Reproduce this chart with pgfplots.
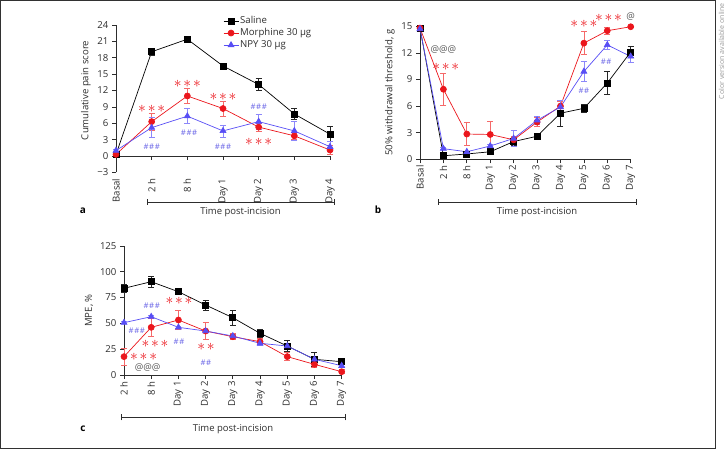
\documentclass[border=0pt]{standalone}
\usepackage{pgfplots}
\pgfplotsset{compat=1.18}
\usepackage{fontspec}
\setmainfont{Open Sans}
\definecolor{cred}{RGB}{235,22,28}
\definecolor{credl}{RGB}{245,105,105}
\definecolor{cblue}{RGB}{88,78,245}
\definecolor{cbluel}{RGB}{140,135,250}
\definecolor{chash}{RGB}{105,100,230}
\definecolor{cax}{RGB}{45,45,45}
\definecolor{cborder}{RGB}{50,50,50}
\newcommand{\as}{\scalebox{1.55}{$\ast$}}
\newcommand{\ttt}{\as\kern1.8pt\as\kern1.8pt\as}
\newcommand{\tto}{\as\kern1.8pt\as}
\newcommand{\hhh}{\fontsize{7.8}{8}\selectfont\#\kern0.6pt\#\kern0.6pt\#}
\newcommand{\hho}{\fontsize{7.8}{8}\selectfont\#\kern0.6pt\#}
\newcommand{\aaa}{\fontsize{9.5}{10}\selectfont @@@}
\tikzset{ann/.style={inner sep=0pt, outer sep=0pt}}
\pgfplotsset{
  panel/.style={
    anchor=south west, scale only axis, clip=false,
    axis lines=left,
    axis line style={cax, line width=0.7pt, -},
    tick align=outside, major tick length=4pt,
    tick style={cax, line width=0.7pt},
    /pgf/number format/assume math mode=true,
    tick label style={font=\fontsize{9.6}{10}\selectfont, text=cax},
    xticklabel style={rotate=90, anchor=east, inner sep=2pt},
    label style={font=\fontsize{9.6}{10}\selectfont, text=cax},
    error bars/y dir=both, error bars/y explicit,
  },
  sal/.style={black, line width=0.7pt, mark=square*, mark size=3pt,
    mark options={solid, fill=black, draw=black},
    error bars/error bar style={black!85, line width=0.7pt},
    error bars/error mark options={rotate=90, mark size=3pt, black!85, line width=0.7pt}},
  mor/.style={cred, line width=0.7pt, mark=*, mark size=3pt,
    mark options={solid, fill=cred, draw=cred},
    error bars/error bar style={credl, line width=0.7pt},
    error bars/error mark options={rotate=90, mark size=3pt, credl, line width=0.7pt}},
  npy/.style={cblue, line width=0.7pt, mark=triangle*, mark size=3.4pt,
    mark options={solid, fill=cblue, draw=cblue},
    error bars/error bar style={cbluel, line width=0.7pt},
    error bars/error mark options={rotate=90, mark size=3pt, cbluel, line width=0.7pt}},
}
\begin{document}
\begin{tikzpicture}
\path[use as bounding box] (0pt,0pt) rectangle (725pt,450pt);
\draw[cborder, line width=1pt] (0.5pt,2pt) rectangle (715pt,449.5pt);
\node[rotate=90, anchor=east, text=black!40, font=\fontsize{7}{8}\selectfont, inner sep=0pt] at (721.5pt,447pt) {Color version available online};

% ---------------- panel a
\begin{axis}[panel, at={(116pt,277.6pt)}, width=214pt, height=147.4pt,
  xmin=0, xmax=6, ymin=-3, ymax=24,
  x axis line style={draw=none}, xtick style={draw=none},
  xtick={0,...,6}, xticklabels={Basal,2 h,8 h,Day 1,Day 2,Day 3,Day 4},
  ytick={-3,0,3,6,9,12,15,18,21,24},
  yticklabels={−3,0,3,6,9,12,15,18,21,24},
  ylabel={Cumulative pain score},
  ylabel style={at={(ticklabel cs:0.556)}},
  legend style={at={(axis description cs:0.50,1.07)}, anchor=north west, draw=none, fill=none,
    inner sep=0pt, row sep=0pt, font=\fontsize{9.6}{10}\selectfont,
    nodes={text height=7pt, text depth=2.5pt, inner sep=1.3pt, text=cax}},
  legend cell align=left,
  legend image code/.code={\draw[#1, mark repeat=2, mark phase=2] plot coordinates {(0pt,0pt) (7.5pt,0pt) (15pt,0pt)};},
]
\draw[cax, line width=0.7pt] (axis cs:0,0) -- (axis cs:6,0);
\draw[cax, line width=0.7pt] (axis cs:1,0) -- ++(0pt,-4pt);
\draw[cax, line width=0.7pt] (axis cs:2,0) -- ++(0pt,-4pt);
\draw[cax, line width=0.7pt] (axis cs:3,0) -- ++(0pt,-4pt);
\draw[cax, line width=0.7pt] (axis cs:4,0) -- ++(0pt,-4pt);
\draw[cax, line width=0.7pt] (axis cs:5,0) -- ++(0pt,-4pt);
\draw[cax, line width=0.7pt] (axis cs:6,0) -- ++(0pt,-4pt);
\addplot[sal] table[x=x, y=y, y error=e] {
x y e
0 0.3 0.2
1 19.1 0.6
2 21.4 0.3
3 16.5 0.3
4 13.1 1.1
5 7.7 1.0
6 4.0 1.4
};
\addlegendentry{Saline}
\addplot[mor] table[x=x, y=y, y error=e] {
x y e
0 0.3 0.2
1 6.3 1.6
2 11.0 1.4
3 8.7 1.4
4 5.3 0.7
5 3.7 0.7
6 1.1 0.8
};
\addlegendentry{Morphine 30 µg}
\addplot[npy] table[x=x, y=y, y error=e] {
x y e
0 1.0 0.3
1 5.2 1.8
2 7.3 1.4
3 4.6 1.1
4 6.3 1.4
5 4.6 1.7
6 1.7 0.9
};
\addlegendentry{NPY 30 µg}
\node[ann, text=cred] at (axis cs:1,8.6) {\ttt};
\node[ann, text=cred] at (axis cs:2,13.2) {\ttt};
\node[ann, text=cred] at (axis cs:3,10.8) {\ttt};
\node[ann, text=cred] at (axis cs:4,2.5) {\ttt};
\node[ann, text=chash] at (axis cs:1,1.65) {\hhh};
\node[ann, text=chash] at (axis cs:2.05,4.2) {\hhh};
\node[ann, text=chash] at (axis cs:3,1.65) {\hhh};
\node[ann, text=chash] at (axis cs:4,9.0) {\hhh};
\end{axis}

% ---------------- panel b
\begin{axis}[panel, at={(420pt,290.7pt)}, width=210.7pt, height=133pt,
  xmin=0, xmax=9, ymin=0, ymax=15,
  xtick={0,...,9}, xticklabels={Basal,2 h,8 h,Day 1,Day 2,Day 3,Day 4,Day 5,Day 6,Day 7},
  ytick={0,3,...,15},
  ylabel={50\% withdrawal threshold, g},
]
\addplot[sal] table[x=x, y=y, y error=e] {
x y e
0 14.8 0.1
1 0.4 0.1
2 0.6 0.1
3 0.85 0.3
4 2.0 0.4
5 2.6 0.1
6 5.2 1.5
7 5.75 0.5
8 8.6 1.3
9 12.1 0.6
};
\addplot[mor] table[x=x, y=y, y error=e] {
x y e
0 14.8 0.1
1 7.9 1.8
2 2.85 1.3
3 2.8 1.5
4 2.2 0.4
5 4.2 0.5
6 6.0 0.5
7 13.1 1.3
8 14.5 0.4
9 14.95 0.1
};
\addplot[npy] table[x=x, y=y, y error=e] {
x y e
0 14.7 0.1
1 1.2 0.1
2 0.85 0.1
3 1.5 0.2
4 2.35 0.9
5 4.4 0.5
6 5.9 0.8
7 9.9 1.1
8 12.9 0.5
9 11.6 0.7
};
\node[ann, text=black!65] at (axis cs:1.0,12.4) {\aaa};
\node[ann, text=cred] at (axis cs:1.1,10.4) {\ttt};
\node[ann, text=cred] at (axis cs:7.0,15.3) {\ttt};
\node[ann, text=cred] at (axis cs:8.05,16.0) {\ttt};
\node[ann, text=black!65, font=\fontsize{9.5}{10}\selectfont] at (axis cs:9.0,16.15) {@};
\node[ann, text=chash] at (axis cs:7.0,7.7) {\hho};
\node[ann, text=chash] at (axis cs:7.95,11.0) {\hho};
\end{axis}

% ---------------- panel c
\begin{axis}[panel, at={(124pt,75pt)}, width=217.7pt, height=129pt,
  xmin=0, xmax=8, ymin=0, ymax=125,
  xtick={0,...,8}, xticklabels={2 h,8 h,Day 1,Day 2,Day 3,Day 4,Day 5,Day 6,Day 7},
  ytick={0,25,...,125},
  ylabel={MPE, \%},
]
\addplot[sal] table[x=x, y=y, y error=e] {
x y e
0 84.0 4
1 90.4 5
2 80.7 3
3 67.8 5
4 55.5 7
5 40.4 4
6 28.1 5
7 15.2 7
8 12.9 2
};
\addplot[mor] table[x=x, y=y, y error=e] {
x y e
0 17.8 8
1 46.2 9
2 53.3 9
3 42.6 8
4 37.1 3
5 32.3 3
6 17.8 4
7 10.3 3
8 3.2 2
};
\addplot[npy] table[x=x, y=y, y error=e] {
x y e
0 50.7 1
1 56.5 1
2 46.2 1
3 42.6 1
4 37.8 2
5 30.7 2
6 28.1 2
7 15.2 2
8 9.0 2
};
\node[ann, text=chash] at (axis cs:1.02,66.9) {\hhh};
\node[ann, text=chash] at (axis cs:0.47,43.2) {\hhh};
\node[ann, text=cred] at (axis cs:2.02,71.5) {\ttt};
\node[ann, text=cred] at (axis cs:1.14,30.4) {\ttt};
\node[ann, text=cred] at (axis cs:0.72,17.4) {\ttt};
\node[ann, text=black!65] at (axis cs:0.87,7.4) {\aaa};
\node[ann, text=chash] at (axis cs:2.02,32.3) {\hho};
\node[ann, text=cred] at (axis cs:3.01,26.9) {\tto};
\node[ann, text=chash] at (axis cs:3.01,12.3) {\hho};
\end{axis}

% ---------------- brackets and panel letters
\begin{scope}[cax, line width=0.7pt]
\draw (147pt,248pt) -- (334pt,248pt);
\draw (147pt,245pt) -- (147pt,251pt);
\draw (334pt,245pt) -- (334pt,251pt);
\draw (438pt,248pt) -- (636pt,248pt);
\draw (438pt,245pt) -- (438pt,251pt);
\draw (636pt,245pt) -- (636pt,251pt);
\draw (121pt,32.7pt) -- (345pt,32.7pt);
\draw (121pt,29.7pt) -- (121pt,35.7pt);
\draw (345pt,29.7pt) -- (345pt,35.7pt);
\end{scope}
\node[text=cax, font=\fontsize{9.5}{10}\selectfont] at (240.5pt,237.5pt) {Time post-incision};
\node[text=cax, font=\fontsize{9.5}{10}\selectfont] at (537pt,237.5pt) {Time post-incision};
\node[text=cax, font=\fontsize{9.5}{10}\selectfont] at (233pt,20.7pt) {Time post-incision};
\node[font=\bfseries\fontsize{10}{10}\selectfont] at (83pt,239pt) {a};
\node[font=\bfseries\fontsize{10}{10}\selectfont] at (378pt,240pt) {b};
\node[font=\bfseries\fontsize{10}{10}\selectfont] at (83pt,21pt) {c};
\end{tikzpicture}
\end{document}
